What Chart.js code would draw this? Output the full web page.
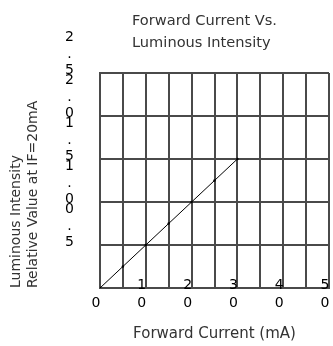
<!DOCTYPE html>
<html>
<head>
<meta charset="utf-8">
<script src="https://cdn.jsdelivr.net/npm/chart.js@4.4.1/dist/chart.umd.min.js"></script>
<style>
  html, body { margin: 0; padding: 0; background: #fff; }
  canvas { display: block; }
</style>
</head>
<body>
<canvas id="chart" width="333" height="346"></canvas>
<script>
// Forward current (mA) vs. relative luminous intensity (1.0 at IF = 20 mA)
const currentMa = [0, 5, 10, 15, 20, 25, 30];
const relIntensity = [0, 0.25, 0.5, 0.75, 1.0, 1.25, 1.5];

// Axis tick labels (values shown, written one character per row)
const xTickValues = [0, 10, 20, 30, 40, 50];
const yTickLabels = ['0.5', '1.0', '1.5', '2.0', '2.5'];

const titleLines = ['Forward Current Vs.', 'Luminous Intensity'];
const xTitle = 'Forward Current (mA)';
const yTitle = ['Luminous Intensity', 'Relative Value at IF=20mA'];

const FONT = 'DejaVu Sans';
const GRID = '#4a4a4a';

// Chart heading, left-aligned above the plot
const headingPlugin = {
  id: 'heading',
  afterDraw(chart) {
    const { ctx, chartArea } = chart;
    ctx.save();
    ctx.font = '14.6px "' + FONT + '"';
    ctx.fillStyle = '#333';
    ctx.textAlign = 'left';
    ctx.textBaseline = 'alphabetic';
    titleLines.forEach((t, i) => ctx.fillText(t, chartArea.left + 32, 25 + i * 21.5));
    ctx.restore();
  }
};

new Chart(document.getElementById('chart'), {
  type: 'line',
  data: {
    datasets: [{
      data: currentMa.map((x, i) => ({ x, y: relIntensity[i] })),
      borderColor: '#000',
      borderWidth: 1,
      pointRadius: 1.2,
      pointBackgroundColor: '#000',
      pointBorderWidth: 0,
      tension: 0,
      fill: false
    }]
  },
  options: {
    responsive: false,
    animation: false,
    layout: { padding: { top: 73, right: 1, left: 0, bottom: 0 } },
    plugins: { legend: { display: false }, tooltip: { enabled: false } },
    scales: {
      x: {
        type: 'linear',
        min: 0,
        max: 50,
        afterFit: s => { s.height = 58; },
        ticks: {
          stepSize: 5,
          autoSkip: false,
          maxRotation: 0,
          mirror: true,
          padding: -6,
          labelOffset: -4,
          color: '#000',
          font: { family: FONT, size: 14, lineHeight: 1.28 },
          callback: v => xTickValues.includes(v) ? String(v).padStart(2, ' ').split('') : ''
        },
        grid: { color: GRID, lineWidth: 2, drawTicks: false },
        border: { color: GRID, width: 2 },
        title: {
          display: true,
          text: xTitle,
          color: '#333',
          font: { family: FONT, size: 15, lineHeight: 1.2 },
          padding: { top: 14, bottom: 3 }
        }
      },
      y: {
        min: 0,
        max: 2.5,
        afterFit: s => { s.width = 100; },
        ticks: {
          stepSize: 0.5,
          autoSkip: false,
          crossAlign: 'center',
          padding: 26,
          labelOffset: -19,
          color: '#000',
          font: { family: FONT, size: 14, lineHeight: 1.18 },
          callback: v => {
            const s = v.toFixed(1);
            return yTickLabels.includes(s) ? s.split('') : '';
          }
        },
        grid: { color: GRID, lineWidth: 2, drawTicks: false },
        border: { color: GRID, width: 2 },
        title: {
          display: true,
          text: yTitle,
          align: 'start',
          color: '#333',
          font: { family: FONT, size: 14, lineHeight: 1.2 },
          padding: { top: 8, bottom: 0 }
        }
      }
    }
  },
  plugins: [headingPlugin]
});
</script>
</body>
</html>
